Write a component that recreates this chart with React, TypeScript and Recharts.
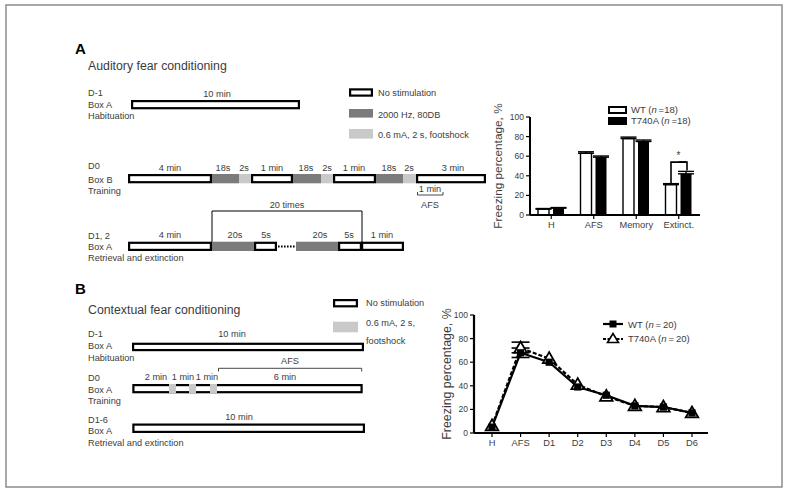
import React from 'react';
import { BarChart, Bar, XAxis, YAxis, ErrorBar, LabelList, Legend, LineChart, Line } from 'recharts';

// Panel A: auditory fear conditioning
const barCategories = ['H', 'AFS', 'Memory', 'Extinct.'];
const wtFreezing = [6, 63, 78, 31];
const wtFreezingErr = [0.6, 1.5, 1.5, 1];
const t740aFreezing = [7, 59, 75, 42];
const t740aFreezingErr = [0.6, 1.2, 1.5, 2.5];
const sigLevel = 54; // bracket height over Extinct., in %

// Panel B: contextual fear conditioning
const days = ['H', 'AFS', 'D1', 'D2', 'D3', 'D4', 'D5', 'D6'];
const wtDays = [5, 68, 60, 39, 32, 23, 22, 17];
const wtDaysErrLow = [0, 4, 0, 0, 0, 0, 0, 0];
const t740aDays = [6, 72, 63, 41, 31, 23, 22, 17];
const t740aDaysErrHigh = [0, 5, 0, 0, 0, 0, 0, 0];

const yTicks = [0, 20, 40, 60, 80, 100];

const barData = barCategories.map((name, i) => ({
  name,
  wt: wtFreezing[i],
  wtErr: [0, wtFreezingErr[i]],
  t: t740aFreezing[i],
  tErr: [0, t740aFreezingErr[i]],
}));

// errors hidden behind the markers are left out (0 = no error bar drawn)
const lineData = days.map((name, i) => ({
  name,
  wt: wtDays[i],
  wtErr: wtDaysErrLow[i] ? [wtDaysErrLow[i], 0] : 0,
  t: t740aDays[i],
  tErr: t740aDaysErrHigh[i] ? [0, t740aDaysErrHigh[i]] : 0,
}));

const FONT = '"Liberation Sans", Arial, sans-serif';
const TXT = '#3c3c3c';
const DARK = '#7b7b7b';
const LIGHT = '#c9c9c9';

const tickStyle = { fill: TXT, fontSize: 8.5, fontFamily: FONT };
const catTickStyle = { fill: TXT, fontSize: 9.3, fontFamily: FONT };

// schematic helpers
const T = ({ x, y, a = 'start', s = 9.2, children }: any) => (
  <text x={x} y={y} textAnchor={a} fontSize={s} fill={TXT} fontFamily={FONT}>{children}</text>
);
const WBox = ({ x0, x1, y, h }: any) => (
  <rect x={x0 + 1.1} y={y + 1.1} width={x1 - x0 - 2.2} height={h - 2.2} fill="#fff" stroke="#000" strokeWidth={2.2} />
);
const GBox = ({ x0, x1, y, h, c }: any) => <rect x={x0} y={y} width={x1 - x0} height={h} fill={c} />;

function sigBarLabel(side: 'wt' | 't') {
  return (props: any) => {
    if (props.index !== 3) return null;
    const vb = props.viewBox || props;
    const x = Number(vb.x ?? props.x);
    const y = Number(vb.y ?? props.y);
    const w = Number(vb.width ?? props.width);
    const h = Number(vb.height ?? props.height);
    const v = Number(props.value);
    const ppu = h / v;
    const base = y + h;
    const yBr = base - sigLevel * ppu;
    const cx = x + w / 2;
    if (side === 'wt') {
      const yArm = base - (v + wtFreezingErr[3] + 0.5) * ppu;
      return <path d={`M${cx},${yArm} V${yBr} H${cx + w + 4}`} stroke="#000" strokeWidth={1.6} fill="none" />;
    }
    const yArm = base - (v + t740aFreezingErr[3] + 0.8) * ppu;
    return (
      <g>
        <path d={`M${cx - w / 2 - 2},${yBr} H${cx + 1} V${yArm}`} stroke="#000" strokeWidth={1.6} fill="none" />
        <text x={cx - (w + 4) / 2} y={yBr - 3} textAnchor="middle" fontSize={10} fill={TXT} fontFamily={FONT}>*</text>
      </g>
    );
  };
}

const barLegend = () => (
  <div style={{ fontFamily: FONT, fontSize: 9.5, color: TXT, lineHeight: '11px' }}>
    {[{ f: '#fff', l: 'WT' }, { f: '#000', l: 'T740A' }].map(d => (
      <div key={d.l} style={{ display: 'flex', alignItems: 'center', height: 11 }}>
        <span style={{ display: 'inline-block', width: 15, height: 4, border: '2px solid #000', background: d.f, marginRight: 4 }} />
        <span>{d.l} (<i>n</i>&thinsp;=18)</span>
      </div>
    ))}
  </div>
);

const lineLegend = () => (
  <div style={{ fontFamily: FONT, fontSize: 9.5, color: TXT }}>
    <div style={{ display: 'flex', alignItems: 'center', height: 14 }}>
      <svg width={22} height={12} style={{ marginRight: 4 }}>
        <line x1={1} y1={6} x2={21} y2={6} stroke="#000" strokeWidth={2.2} />
        <rect x={7.5} y={2.5} width={7} height={7} fill="#000" />
      </svg>
      <span>WT (<i>n</i>&thinsp;=&thinsp;20)</span>
    </div>
    <div style={{ display: 'flex', alignItems: 'center', height: 14 }}>
      <svg width={22} height={12} style={{ marginRight: 4 }}>
        <line x1={1} y1={7} x2={21} y2={7} stroke="#000" strokeWidth={2.2} strokeDasharray="3 1.5" />
        <polygon points="11,1.5 5.5,10.5 16.5,10.5" fill="#fff" stroke="#000" strokeWidth={1.6} />
      </svg>
      <span>T740A (<i>n</i>&thinsp;=&thinsp;20)</span>
    </div>
  </div>
);

const squareDot = (p: any) => (
  <rect key={`s${p.index}`} x={p.cx - 3.6} y={p.cy - 3.6} width={7.2} height={7.2} fill="#000" />
);
const triDot = (p: any) => (
  <polygon
    key={`t${p.index}`}
    points={`${p.cx},${p.cy - 6.5} ${p.cx - 6.3},${p.cy + 4.5} ${p.cx + 6.3},${p.cy + 4.5}`}
    fill="#fff"
    stroke="#000"
    strokeWidth={1.8}
  />
);

function Schematics() {
  return (
    <svg width={790} height={494} style={{ position: 'absolute', left: 0, top: 0 }}>
      <rect x={6} y={5} width={776} height={482} fill="#fff" stroke="#8c8c8c" strokeWidth={1.5} />

      {/* A */}
      <text x={75} y={53.5} fontSize={15} fontWeight="bold" fill="#000" fontFamily={FONT}>A</text>
      <T x={88} y={69.5} s={12.3}>Auditory fear conditioning</T>

      <T x={88} y={95.6}>D-1</T>
      <T x={88} y={108.3}>Box A</T>
      <T x={88} y={119}>Habituation</T>
      <T x={217} y={96.6} a="middle">10 min</T>
      <WBox x0={131} x1={300} y={100} h={9.3} />

      <WBox x0={349} x1={373} y={88.3} h={8.4} />
      <T x={378} y={95.5}>No stimulation</T>
      <GBox x0={349} x1={373} y={109} h={8.6} c={DARK} />
      <T x={378} y={118.3}>2000 Hz, 80DB</T>
      <GBox x0={349} x1={373} y={129} h={9.6} c={LIGHT} />
      <T x={378} y={138.3}>0.6 mA, 2 s, footshock</T>

      <T x={88} y={169.3}>D0</T>
      <T x={88} y={183.3}>Box B</T>
      <T x={88} y={194}>Training</T>
      {[
        [170, '4 min'], [223, '18s'], [244, '2s'], [272, '1 min'], [306, '18s'], [327, '2s'],
        [354, '1 min'], [389, '18s'], [409, '2s'], [453, '3 min'],
      ].map(([x, l], i) => <T key={i} x={x} y={170.6} a="middle">{l}</T>)}
      <WBox x0={128} x1={212} y={174} h={9.3} />
      <GBox x0={212} x1={239} y={174} h={9.3} c={DARK} />
      <GBox x0={239} x1={251} y={174} h={9.3} c={LIGHT} />
      <WBox x0={251} x1={293} y={174} h={9.3} />
      <GBox x0={293} x1={321} y={174} h={9.3} c={DARK} />
      <GBox x0={321} x1={333} y={174} h={9.3} c={LIGHT} />
      <WBox x0={333} x1={376} y={174} h={9.3} />
      <GBox x0={376} x1={403} y={174} h={9.3} c={DARK} />
      <GBox x0={403} x1={416} y={174} h={9.3} c={LIGHT} />
      <WBox x0={416} x1={486} y={174} h={9.3} />
      <T x={430} y={192} a="middle">1 min</T>
      <path d="M417.5,192 V195 H443 V192" stroke="#333" strokeWidth={0.9} fill="none" />
      <T x={430} y={207.6} a="middle">AFS</T>

      <T x={287} y={207.6} a="middle">20 times</T>
      <path d="M212,243 V211 H362 V243" stroke="#000" strokeWidth={1} fill="none" />
      <T x={88} y={239.3}>D1, 2</T>
      <T x={88} y={250}>Box A</T>
      <T x={88} y={260.6}>Retrieval and extinction</T>
      {[
        [170, '4 min'], [235, '20s'], [266, '5s'], [320, '20s'], [349, '5s'], [382, '1 min'],
      ].map(([x, l], i) => <T key={i} x={x} y={238.3} a="middle">{l}</T>)}
      <WBox x0={128} x1={212} y={241.7} h={9.3} />
      <GBox x0={212} x1={254} y={241.7} h={9.3} c={DARK} />
      <WBox x0={254} x1={277} y={241.7} h={9.3} />
      <line x1={278} y1={246.4} x2={296} y2={246.4} stroke="#000" strokeWidth={2} strokeDasharray="1.6 1.4" />
      <GBox x0={296} x1={338} y={241.7} h={9.3} c={DARK} />
      <WBox x0={338} x1={362} y={241.7} h={9.3} />
      <WBox x0={361} x1={404} y={241.7} h={9.3} />

      {/* B */}
      <text x={75} y={294} fontSize={15} fontWeight="bold" fill="#000" fontFamily={FONT}>B</text>
      <T x={88} y={314.3} s={12.3}>Contextual fear conditioning</T>

      <WBox x0={333} x1={358} y={299} h={8.4} />
      <T x={366} y={306}>No stimulation</T>
      <GBox x0={333} x1={358} y={321.7} h={10.6} c={LIGHT} />
      <T x={366} y={326}>0.6 mA, 2 s,</T>
      <T x={366} y={344}>footshock</T>

      <T x={88} y={336.6}>D-1</T>
      <T x={88} y={349}>Box A</T>
      <T x={88} y={360.6}>Habituation</T>
      <T x={232} y={336.6} a="middle">10 min</T>
      <WBox x0={132} x1={364} y={342.7} h={8.5} />

      <T x={290} y={364} a="middle">AFS</T>
      <path d="M218.5,371.5 V368.3 H361.7 V371.5" stroke="#333" strokeWidth={0.9} fill="none" />
      <T x={88} y={380.6}>D0</T>
      <T x={88} y={392.6}>Box A</T>
      <T x={88} y={404}>Training</T>
      {[[156, '2 min'], [183, '1 min'], [207, '1 min'], [285, '6 min']].map(([x, l], i) => (
        <T key={i} x={x} y={380} a="middle">{l}</T>
      ))}
      <WBox x0={132.3} x1={362.7} y={384} h={9.3} />
      <GBox x0={169} x1={176} y={384} h={9.3} c={LIGHT} />
      <GBox x0={189} x1={196} y={384} h={9.3} c={LIGHT} />
      <GBox x0={210} x1={217} y={384} h={9.3} c={LIGHT} />

      <T x={88} y={423.3}>D1-6</T>
      <T x={88} y={434.3}>Box A</T>
      <T x={88} y={445.6}>Retrieval and extinction</T>
      <T x={239} y={420} a="middle">10 min</T>
      <WBox x0={132.3} x1={365} y={423.5} h={9.5} />
    </svg>
  );
}

export default function App() {
  return (
    <div style={{ position: 'absolute', left: 0, top: 0, width: 790, height: 494, background: '#fff', overflow: 'hidden' }}>
      <Schematics />

      <div style={{ position: 'absolute', left: 480, top: 95 }}>
        <BarChart width={290} height={160} data={barData} margin={{ top: 22, right: 70, bottom: 15, left: 0 }} barGap={4}>
          <YAxis
            width={50}
            domain={[0, 100]}
            ticks={yTicks}
            interval={0}
            tick={tickStyle}
            tickSize={4}
            tickLine={{ stroke: '#000', strokeWidth: 1.2 }}
            axisLine={{ stroke: '#000', strokeWidth: 2 }}
            label={{ value: 'Freezing percentage, %', angle: -90, position: 'insideLeft', offset: 18, style: { textAnchor: 'middle', fill: TXT, fontSize: 11.8, fontFamily: FONT } }}
          />
          <XAxis
            dataKey="name"
            height={25}
            tick={catTickStyle}
            tickSize={4}
            tickLine={{ stroke: '#000', strokeWidth: 1.2 }}
            axisLine={{ stroke: '#000', strokeWidth: 2 }}
          />
          <Legend verticalAlign="middle" layout="horizontal" content={barLegend} wrapperStyle={{ position: 'absolute', left: 128, top: 9, width: 'auto' }} />
          <Bar dataKey="wt" barSize={11} fill="#fff" stroke="#000" strokeWidth={1.4} isAnimationActive={false}>
            <ErrorBar dataKey="wtErr" width={8} stroke="#000" strokeWidth={1.4} direction="y" />
            <LabelList dataKey="wt" content={sigBarLabel('wt')} />
          </Bar>
          <Bar dataKey="t" barSize={11} fill="#000" isAnimationActive={false}>
            <ErrorBar dataKey="tErr" width={8} stroke="#000" strokeWidth={1.4} direction="y" />
            <LabelList dataKey="t" content={sigBarLabel('t')} />
          </Bar>
        </BarChart>
      </div>

      <div style={{ position: 'absolute', left: 430, top: 295 }}>
        <LineChart width={300} height={165} data={lineData} margin={{ top: 20, right: 22, bottom: 0, left: 0 }}>
          <YAxis
            width={44}
            domain={[0, 100]}
            ticks={yTicks}
            interval={0}
            tick={tickStyle}
            tickSize={4}
            tickLine={{ stroke: '#000', strokeWidth: 1.2 }}
            axisLine={{ stroke: '#000', strokeWidth: 2.2 }}
            label={{ value: 'Freezing percentage, %', angle: -90, position: 'insideLeft', offset: 17, style: { textAnchor: 'middle', fill: TXT, fontSize: 12.4, fontFamily: FONT } }}
          />
          <XAxis
            dataKey="name"
            height={27}
            padding={{ left: 18, right: 16 }}
            interval={0}
            tick={catTickStyle}
            tickSize={4}
            tickLine={{ stroke: '#000', strokeWidth: 1.2 }}
            axisLine={{ stroke: '#000', strokeWidth: 2.2 }}
          />
          <Legend verticalAlign="middle" layout="horizontal" content={lineLegend} wrapperStyle={{ position: 'absolute', left: 172, top: 22, width: 'auto' }} />
          <Line dataKey="t" stroke="#000" strokeWidth={2.2} strokeDasharray="4 2" dot={triDot} isAnimationActive={false}>
            <ErrorBar dataKey="tErr" width={9} stroke="#000" strokeWidth={1.6} direction="y" />
          </Line>
          <Line dataKey="wt" stroke="#000" strokeWidth={2.2} dot={squareDot} isAnimationActive={false}>
            <ErrorBar dataKey="wtErr" width={9} stroke="#000" strokeWidth={1.6} direction="y" />
          </Line>
        </LineChart>
      </div>
    </div>
  );
}
